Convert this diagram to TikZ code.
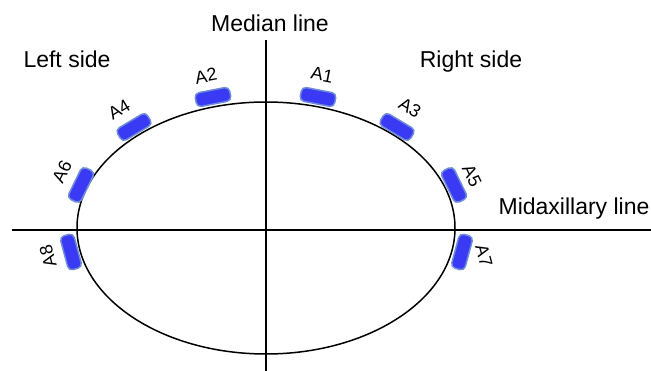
\documentclass[tikz,border=0pt]{standalone}
\usepackage{fontspec}
\setmainfont{Liberation Sans}
\usetikzlibrary{shapes.geometric}
\definecolor{padfill}{RGB}{58,58,245}
\definecolor{padline}{RGB}{110,140,215}
\begin{document}
\begin{tikzpicture}[x=1pt,y=-1pt,
  pad/.style={draw=padline, fill=padfill, line width=1.5pt, rounded corners=4.5pt,
    minimum width=35pt, minimum height=14pt, inner sep=0pt},
  plab/.style={font=\fontsize{18}{18}\selectfont, inner sep=0pt},
  big/.style={font=\fontsize{23}{23}\selectfont, inner sep=0pt, anchor=base},
  axisline/.style={line width=1.5pt, black}]
\useasboundingbox (0,0) rectangle (651,371);
% axes
\coordinate (mtop) at (266,40);
\coordinate (mbot) at (266,371);
\coordinate (hleft) at (12,230);
\coordinate (hright) at (651,230);
\draw[axisline] (mtop) -- (mbot);
\draw[axisline] (hleft) -- (hright);
% body outline
\node[draw, ellipse, line width=1.5pt, minimum width=378pt, minimum height=252pt, inner sep=0pt] (body) at (266,228) {};
% pads
\node[pad, rotate=-11] (p1) at (318,97) {};
\node[pad, rotate=11]  (p2) at (213,97) {};
\node[pad, rotate=-31] (p3) at (397,127) {};
\node[pad, rotate=31]  (p4) at (134,127) {};
\node[pad, rotate=-64] (p5) at (454,185) {};
\node[pad, rotate=64]  (p6) at (81,185) {};
\node[pad, rotate=75]  (p7) at (462,252) {};
\node[pad, rotate=105] (p8) at (71,252) {};
% pad labels
\node[plab, rotate=-11] (l1) at (322,75) {A1};
\node[plab, rotate=11]  (l2) at (206,76) {A2};
\node[plab, rotate=-31] (l3) at (410,108) {A3};
\node[plab, rotate=31]  (l4) at (119,110) {A4};
\node[plab, rotate=-64] (l5) at (472,176) {A5};
\node[plab, rotate=64]  (l6) at (62,172) {A6};
\node[plab, rotate=-75] (l7) at (484,256) {A7};
\node[plab, rotate=105] (l8) at (48,256) {A8};
% titles
\node[big] (median) at (270,32) {Median line};
\node[big] (left) at (67,68) {Left side};
\node[big] (right) at (471,68) {Right side};
\node[big] (midax) at (574,215) {Midaxillary line};
\end{tikzpicture}
\end{document}
